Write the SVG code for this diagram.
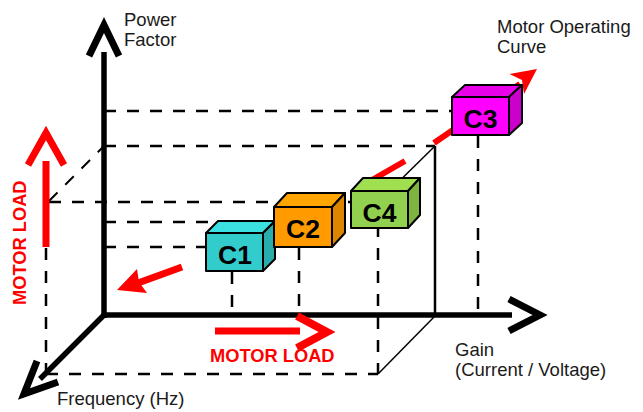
<svg xmlns="http://www.w3.org/2000/svg" width="643" height="412" viewBox="0 0 643 412">
<style>
.dash{stroke:#000;stroke-width:2.5;stroke-dasharray:12 11;fill:none}
.thin{stroke:#000;fill:none}
.ax{stroke:#000;stroke-width:5.5;fill:none}
.chev{stroke:#000;stroke-width:7;fill:none;stroke-linejoin:miter;stroke-miterlimit:10}
.red{stroke:#FF0000;fill:none}
.redf{fill:#FF0000;stroke:none}
.box{stroke:#000;stroke-width:2;stroke-linejoin:round}
.bt{font-family:"Liberation Sans",Arial,sans-serif;font-weight:bold;font-size:26.5px;fill:#000;text-anchor:middle}
.lbl{font-family:"Liberation Sans",Arial,sans-serif;font-size:18.5px;fill:#1a1a1a}
.rl{font-family:"Liberation Sans",Arial,sans-serif;font-weight:bold;font-size:18.3px;fill:#FF0000}
</style>
<g id="guides">
<line class="dash" x1="104" y1="111" x2="452" y2="111"/>
<line class="dash" x1="104" y1="146" x2="435" y2="146"/>
<line class="dash" x1="49" y1="202" x2="378" y2="202"/>
<line class="dash" x1="104" y1="222" x2="218" y2="222"/>
<line class="dash" x1="104" y1="247" x2="206" y2="247"/>
<line class="dash" x1="46" y1="202" x2="46" y2="374"/>
<line class="dash" x1="46" y1="374" x2="378" y2="374"/>
<line class="dash" x1="378" y1="202" x2="378" y2="374"/>
<line class="dash" x1="232" y1="272" x2="232" y2="315"/>
<line class="dash" x1="299" y1="248" x2="299" y2="315"/>
<line class="dash" x1="478" y1="136" x2="478" y2="315"/>
<line class="dash" style="stroke-width:2" x1="49" y1="201" x2="104" y2="146"/>
<line class="thin" style="stroke-width:2.5" x1="435" y1="146" x2="435" y2="316"/>
<line class="thin" style="stroke-width:1.5" x1="435" y1="146" x2="378" y2="202"/>
<line class="thin" style="stroke-width:1.5" x1="435" y1="316" x2="378" y2="374"/>
</g>
<g id="connectors">
<line class="ax" x1="104" y1="52" x2="104" y2="318"/>
<polyline class="chev" points="89,56 104,25 119,56"/>
<line class="ax" x1="102" y1="315" x2="512" y2="315"/>
<polyline class="chev" points="509,299 540,315 509,331"/>
<line class="ax" x1="105" y1="314" x2="40" y2="379"/>
<polyline class="chev" points="37,361 24,394 58,382"/>
<line class="red" style="stroke-width:7" x1="46" y1="161" x2="46" y2="247"/>
<polyline class="red" style="stroke-width:7" points="28,165 46,133 64,165"/>
<line class="red" style="stroke-width:7" x1="215" y1="331" x2="300" y2="331"/>
<polyline class="red" style="stroke-width:8" points="297,316 327,332 297,348"/>
<line class="red" style="stroke-width:7" x1="182" y1="267" x2="138" y2="283"/>
<path class="redf" d="M117,290 L137,269 L139,282 L147,293 Z"/>
<line class="red" style="stroke-width:6" x1="372" y1="180" x2="405" y2="161"/>
<line class="red" style="stroke-width:6" x1="434" y1="143" x2="520" y2="84"/>
<path class="redf" d="M537,69 L509.5,74 L522,80 L524,94 Z"/>
</g>
<g id="C1">
<polygon class="box" fill="#3BE0E0" points="206,233 218,221 275,221 263,233"/>
<polygon class="box" fill="#2AACAC" points="263,233 275,221 275,259 263,271"/>
<rect class="box" fill="#33CCCC" x="206" y="233" width="57" height="38"/>
<text class="bt" x="235" y="264">C1</text>
</g>
<g id="C2">
<polygon class="box" fill="#FFA500" points="274,207 287,193 345,193 332,207"/>
<polygon class="box" fill="#DD8400" points="332,207 345,193 345,233 332,247"/>
<rect class="box" fill="#FF9A00" x="274" y="207" width="58" height="40"/>
<text class="bt" x="303" y="238">C2</text>
</g>
<g id="C4">
<polygon class="box" fill="#A0E050" points="351,191 363,178 420,178 408,191"/>
<polygon class="box" fill="#7DB540" points="408,191 420,178 420,215 408,228"/>
<rect class="box" fill="#92D050" x="351" y="191" width="57" height="37"/>
<text class="bt" x="379.5" y="222">C4</text>
</g>
<g id="C3">
<polygon class="box" fill="#E800E8" points="452,97 465,85 522,85 509,97"/>
<polygon class="box" fill="#CC00CC" points="509,97 522,85 522,123 509,135"/>
<rect class="box" fill="#FF00FF" x="452" y="97" width="57" height="38"/>
<text class="bt" x="480.5" y="128">C3</text>
</g>
<g id="labels">
<text class="lbl" x="124" y="26">Power</text>
<text class="lbl" x="124" y="46">Factor</text>
<text class="lbl" x="497" y="33">Motor Operating</text>
<text class="lbl" x="497" y="53">Curve</text>
<text class="lbl" x="455" y="356">Gain</text>
<text class="lbl" x="455" y="376">(Current / Voltage)</text>
<text class="lbl" x="57" y="405">Frequency (Hz)</text>
<text class="rl" x="210" y="362">MOTOR LOAD</text>
<text class="rl" transform="translate(26,305) rotate(-90)">MOTOR LOAD</text>
</g>
</svg>
